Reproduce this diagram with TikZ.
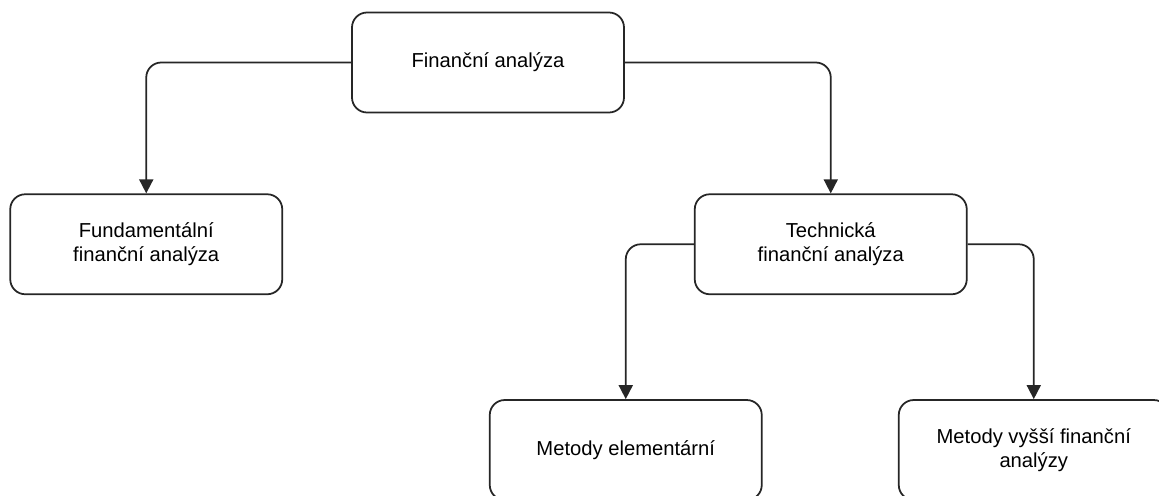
\documentclass[tikz,border=0pt]{standalone}
\usepackage{fontspec}
\setmainfont{Liberation Sans}
\usepackage{tikz}
\usetikzlibrary{positioning,arrows.meta}
\tikzstyle{box}=[draw=black!85, line width=1pt, rounded corners=0.3cm, fill=white, minimum width=5.44cm, minimum height=2cm, align=center, font={\fontsize{11.5}{13.5}\selectfont}]
\tikzstyle{arrow}=[draw=black!85, line width=1pt, rounded corners=0.3cm, -{Triangle[length=8pt, width=8pt]}]

\begin{document}
\begin{tikzpicture}
        \useasboundingbox (0,0) rectangle (23.18,-9.9);
        \node[box] (fa) at (9.76,-1.25) {Finanční analýza};
        \node[box] (fund) [below left= 1.6cm and 1.36cm of fa] {Fundamentální\\finanční analýza};
        \node[box] (tech) [below right= 1.6cm and 1.38cm of fa] {Technická\\finanční analýza};
        \node[box] (elem) [below= 2.08cm of tech, xshift=-4.1cm] {Metody elementární};
        \node[box, minimum width=5.4cm] (vyssi) [below= 2.08cm of tech, xshift=4.06cm] {Metody vyšší finanční\\analýzy};
        \draw[arrow] (fa.west) -| (fund.north);
        \draw[arrow] (fa.east) -| (tech.north);
        \draw[arrow] (tech.west) -| (elem.north);
        \draw[arrow] (tech.east) -| (vyssi.north);
\end{tikzpicture}
\end{document}
